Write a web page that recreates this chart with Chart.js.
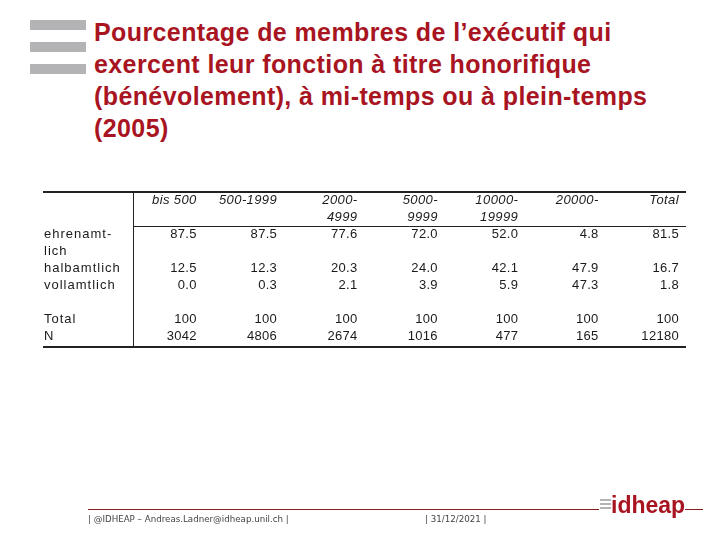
<!DOCTYPE html>
<html lang="fr">
<head>
    <meta charset="UTF-8">
    <title>Pourcentage de membres de l'exécutif</title>
    <script src="https://cdn.jsdelivr.net/npm/chart.js"></script>
    <style>
        body {
            margin: 0;
            width: 720px;
            height: 540px;
            background: #ffffff;
            position: relative;
            overflow: hidden;
            font-family: "Liberation Sans", Arial, sans-serif;
        }
        .bar {
            position: absolute;
            left: 30px;
            width: 56px;
            height: 10px;
            background: #b3b3b5;
        }
        h2 {
            position: absolute;
            left: 94px;
            top: 16px;
            margin: 0;
            font-size: 25px;
            line-height: 32px;
            letter-spacing: 0.4px;
            font-weight: bold;
            color: #a8141f;
        }
        #tableChart {
            position: absolute;
            left: 0;
            top: 0;
        }
        .rule {
            position: absolute;
            top: 509px;
            height: 1px;
            background: #8b1c22;
        }
        .foot {
            position: absolute;
            top: 514px;
            font-family: "DejaVu Sans", Verdana, sans-serif;
            font-size: 8.7px;
            color: #444;
        }
        .logo {
            position: absolute;
            left: 611px;
            top: 492px;
            font-family: "Liberation Sans Narrow", "Liberation Sans", Arial, sans-serif;
            font-stretch: condensed;
            font-weight: bold;
            font-size: 23px;
            color: #a8141f;
        }
        .logo-bar {
            position: absolute;
            left: 600px;
            width: 11px;
            height: 2px;
            background: #b3b3b5;
        }
    </style>
</head>
<body>

<div class="bar" style="top:20px"></div>
<div class="bar" style="top:42px"></div>
<div class="bar" style="top:64px"></div>

<h2>Pourcentage de membres de l’exécutif qui<br>
exercent leur fonction à titre honorifique<br>
(bénévolement), à mi-temps ou à plein-temps<br>
(2005)</h2>

<canvas id="tableChart" width="720" height="540"></canvas>

<div class="rule" style="left:88px; width:511px"></div>
<div class="rule" style="left:685px; width:18px"></div>
<div class="logo-bar" style="top:499px"></div>
<div class="logo-bar" style="top:503px"></div>
<div class="logo-bar" style="top:507px"></div>
<div class="logo">idheap</div>
<div class="foot" style="left:88px">| @IDHEAP – Andreas.Ladner@idheap.unil.ch |</div>
<div class="foot" style="left:425px">| 31/12/2021 |</div>

<script>
    // Table data
    const columnLabels = ['bis 500', '500-1999', '2000-\n4999', '5000-\n9999', '10000-\n19999', '20000-', 'Total'];
    const rowLabels = ['ehrenamt-\nlich', 'halbamtlich', 'vollamtlich', 'Total', 'N'];
    const ehrenamtlich = [87.5, 87.5, 77.6, 72.0, 52.0, 4.8, 81.5];
    const halbamtlich = [12.5, 12.3, 20.3, 24.0, 42.1, 47.9, 16.7];
    const vollamtlich = [0.0, 0.3, 2.1, 3.9, 5.9, 47.3, 1.8];
    const totalPct = [100, 100, 100, 100, 100, 100, 100];
    const nCases = [3042, 4806, 2674, 1016, 477, 165, 12180];

    const rowSeries = [ehrenamtlich, halbamtlich, vollamtlich, totalPct, nCases];
    const rowDecimals = [1, 1, 1, 0, 0];
    // line slot of each row in the table grid (0-1 = header)
    const rowSlots = [2, 4, 5, 7, 8];

    const textColor = '#1a1a1a';
    const lineColor = '#222222';

    // plugin that writes the cell texts and the rules from the scales
    const tablePlugin = {
        id: 'tableText',
        afterDatasetsDraw(chart) {
            const ctx = chart.ctx;
            const xs = chart.scales.x;
            const ys = chart.scales.y;
            const colW = xs.getPixelForValue(1) - xs.getPixelForValue(0);
            const left = chart.chartArea.left;
            const right = chart.chartArea.right;
            const top = chart.chartArea.top;
            const bottom = chart.chartArea.bottom;

            ctx.save();
            ctx.fillStyle = textColor;
            ctx.textBaseline = 'middle';

            // header
            ctx.font = 'italic 13px "Liberation Sans", Arial, sans-serif';
            ctx.letterSpacing = '0.4px';
            ctx.textAlign = 'right';
            columnLabels.forEach((lab, i) => {
                const x = xs.getPixelForValue(i + 1) + colW / 2 - 7;
                lab.split('\n').forEach((line, k) => {
                    ctx.fillText(line, x, ys.getPixelForValue(k));
                });
            });

            // row labels
            ctx.font = '13px "Liberation Sans", Arial, sans-serif';
            ctx.letterSpacing = '1px';
            ctx.textAlign = 'left';
            rowLabels.forEach((lab, r) => {
                lab.split('\n').forEach((line, k) => {
                    ctx.fillText(line, left + 1, ys.getPixelForValue(rowSlots[r] + k));
                });
            });

            // values at the point positions
            ctx.letterSpacing = '0.3px';
            ctx.textAlign = 'right';
            chart.data.datasets.forEach((ds, r) => {
                const meta = chart.getDatasetMeta(r);
                meta.data.forEach((pt, i) => {
                    const v = rowSeries[r][i];
                    ctx.fillText(v.toFixed(rowDecimals[r]), pt.x + colW / 2 - 7, pt.y);
                });
            });

            // rules
            ctx.strokeStyle = lineColor;
            ctx.lineWidth = 2;
            ctx.beginPath();
            ctx.moveTo(left, top);
            ctx.lineTo(right, top);
            ctx.moveTo(left, bottom + 2);
            ctx.lineTo(right, bottom + 2);
            ctx.stroke();

            const vx = Math.round(xs.getPixelForValue(0.5) + 10) + 0.5;
            ctx.lineWidth = 1;
            ctx.beginPath();
            ctx.moveTo(vx, top);
            ctx.lineTo(vx, bottom + 2);
            ctx.moveTo(vx, Math.round(ys.getPixelForValue(1.5)) + 0.5);
            ctx.lineTo(right, Math.round(ys.getPixelForValue(1.5)) + 0.5);
            ctx.stroke();
            ctx.restore();
        }
    };

    new Chart(document.getElementById('tableChart'), {
        type: 'scatter',
        data: {
            datasets: rowSeries.map((vals, r) => ({
                label: rowLabels[r],
                data: vals.map((v, i) => ({ x: i + 1, y: rowSlots[r] })),
                pointRadius: 0,
                pointHoverRadius: 0
            }))
        },
        options: {
            responsive: false,
            animation: false,
            events: [],
            layout: {
                padding: { left: 43, right: 34, top: 192, bottom: 195 }
            },
            scales: {
                x: { type: 'linear', min: -0.5, max: 7.5, display: false },
                y: { type: 'linear', min: -0.5, max: 8.5, reverse: true, display: false }
            },
            plugins: {
                legend: { display: false },
                tooltip: { enabled: false }
            }
        },
        plugins: [tablePlugin]
    });
</script>

</body>
</html>
